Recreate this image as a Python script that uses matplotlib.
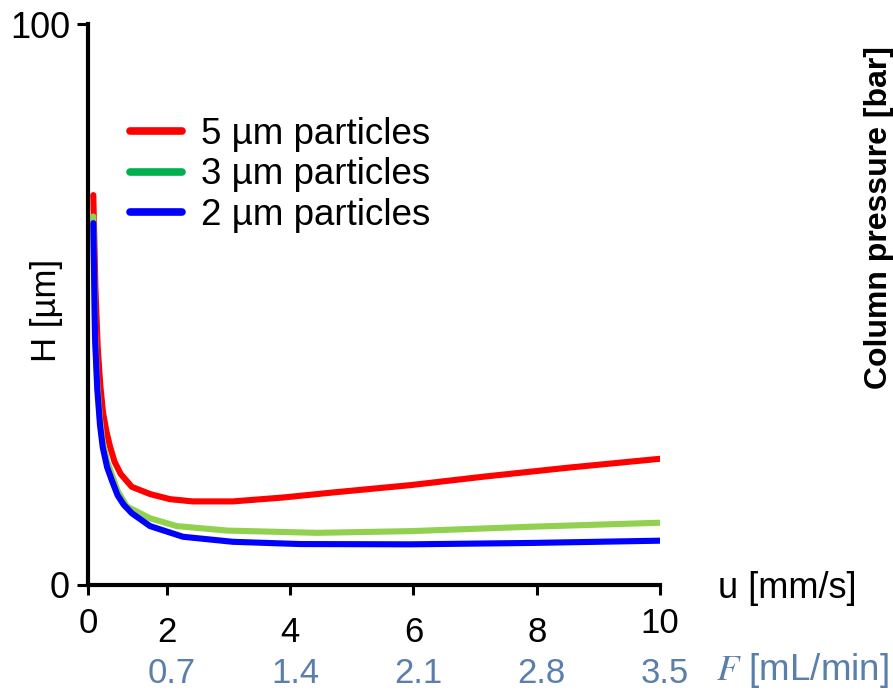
import matplotlib
matplotlib.use("Agg")
import matplotlib.pyplot as plt
import matplotlib.transforms as mtransforms

plt.rcParams['font.family'] = ['Liberation Sans', 'DejaVu Sans']
plt.rcParams['mathtext.fontset'] = 'stix'

# Linear velocity u [mm/s] and plate height H [um] for each particle size
u_5um = [0.806, 0.84, 0.877, 0.92, 0.964, 1.02, 1.077, 1.15, 1.25, 1.43,
         1.73, 2.05, 2.42, 3.07, 3.89, 4.70, 5.95, 7.13, 8.50, 10.0]
h_5um = [69.5, 53.0, 42.5, 35.5, 30.7, 27.3, 24.7, 22.0, 19.8, 17.5,
         16.2, 15.3, 14.9, 14.9, 15.6, 16.5, 17.8, 19.3, 20.9, 22.5]

u_3um = [0.806, 0.834, 0.87, 0.915, 0.96, 1.03, 1.126, 1.2, 1.35,
         1.726, 2.16, 2.98, 4.44, 5.95, 7.94, 10.0]
h_3um = [65.7, 45.0, 36.0, 29.5, 25.5, 22.0, 19.1, 16.8, 14.0,
         11.9, 10.5, 9.7, 9.3, 9.6, 10.4, 11.1]

u_2um = [0.806, 0.834, 0.87, 0.915, 0.96, 1.03, 1.105, 1.2, 1.3, 1.43,
         1.726, 2.26, 3.07, 4.16, 5.95, 7.94, 10.0]
h_2um = [64.5, 44.0, 35.0, 28.5, 24.5, 21.0, 18.7, 16.0, 14.3, 12.8,
         10.5, 8.6, 7.7, 7.3, 7.25, 7.5, 7.9]

series_labels = ['5 µm particles', '3 µm particles', '2 µm particles']
line_colors = ['#ff0000', '#92d050', '#0000ff']
legend_colors = ['#ff0000', '#00b050', '#0000ff']

# Axis origin sits at u0; ticks and labels
u0 = 0.72
u_ticks = [u0, 2, 4, 6, 8, 10]
u_tick_labels = ['0', '2', '4', '6', '8', '10']
f_ticks = [0.7, 1.4, 2.1, 2.8, 3.5]
f_tick_labels = ['0.7', '1.4', '2.1', '2.8', '3.5']
h_ticks = [0, 100]
h_tick_labels = ['0', '100']
flow_per_velocity = 0.35

W, H = 893, 690
fig = plt.figure(figsize=(W / 100, H / 100), dpi=100)
ax = fig.add_axes([88 / W, (H - 585) / H, (660 - 88) / W, (585 - 24) / H])

for u, h, lab, c in zip([u_5um, u_3um, u_2um], [h_5um, h_3um, h_2um],
                        series_labels, line_colors):
    ax.plot(u, h, color=c, lw=4.4, label=lab, solid_capstyle='round',
            solid_joinstyle='round')

ax.set_xlim(u0, 10)
ax.set_ylim(0, 100)
for s in ['top', 'right']:
    ax.spines[s].set_visible(False)
for s in ['left', 'bottom']:
    ax.spines[s].set_linewidth(3)
ax.set_xticks(u_ticks)
ax.set_xticklabels(u_tick_labels)
ax.set_yticks(h_ticks)
ax.set_yticklabels(h_tick_labels)
ax.tick_params(axis='x', length=7, width=2.2, pad=15, labelsize=25)
ax.tick_params(axis='y', length=8, width=2.2, pad=5, labelsize=26)

# raise end labels slightly
raise_off = mtransforms.ScaledTranslation(0, 9 / 100, fig.dpi_scale_trans)
for lbl in ax.get_xticklabels():
    if lbl.get_text() in ('0', '10'):
        lbl.set_transform(lbl.get_transform() + raise_off)

ax.set_ylabel('H [µm]', fontsize=25)
ax.yaxis.set_label_coords(-0.044, 0.49)

# Secondary flow-rate scale
sec = ax.secondary_xaxis(-0.118, functions=(lambda x: x * flow_per_velocity,
                                            lambda x: x / flow_per_velocity))
sec.set_xticks(f_ticks)
sec.set_xticklabels(f_tick_labels)
sec.spines['bottom'].set_visible(False)
sec.tick_params(axis='x', length=0, pad=4, labelsize=25, labelcolor='#5b7fab')
shift = mtransforms.ScaledTranslation(5 / 100, 0, fig.dpi_scale_trans)
for lbl in sec.get_xticklabels():
    lbl.set_transform(lbl.get_transform() + shift)

fig.text(718 / W, 1 - 588 / H, 'u [mm/s]', fontsize=26, ha='left', va='center')
fig.text(716 / W, 1 - 671 / H, '$F$ [mL/min]', fontsize=26.5, ha='left',
         va='center', color='#5b7fab')
fig.text(879 / W, 1 - 218 / H, 'Column pressure [bar]', fontsize=23,
         fontweight='bold', rotation=90, ha='center', va='center')

leg = ax.legend(loc='upper left', bbox_to_anchor=(42 / 572, 0.835),
                frameon=False, fontsize=26.5, handlelength=1.4,
                handletextpad=0.52, labelspacing=0.16, borderaxespad=0,
                borderpad=0)
for hnd, c in zip(leg.legend_handles, legend_colors):
    hnd.set_color(c)
    hnd.set_linewidth(5.5)
    hnd.set_solid_capstyle('round')

fig.savefig('out.png', dpi=100)
